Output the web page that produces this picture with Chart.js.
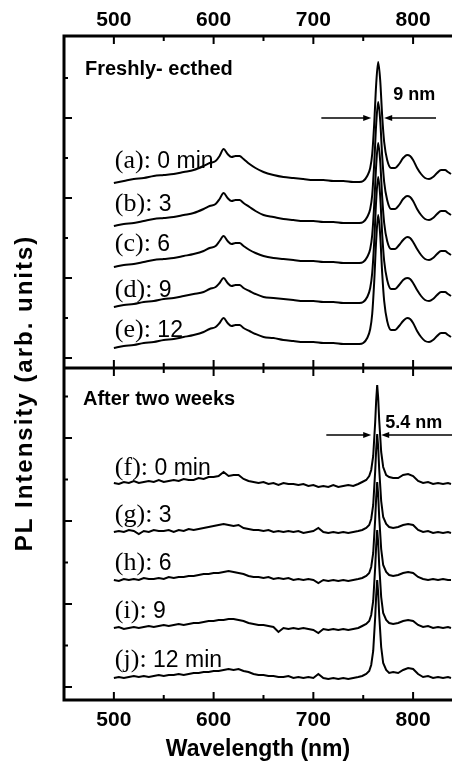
<!DOCTYPE html>
<html>
<head>
<meta charset="utf-8">
<script src="https://cdn.jsdelivr.net/npm/chart.js@4.4.1/dist/chart.umd.min.js"></script>
<style>
  html, body { margin: 0; padding: 0; background: #fff; }
  #chart { display: block; }
</style>
</head>
<body>
<canvas id="chart" width="452" height="763"></canvas>
<script>
// wavelengths (nm) for the freshly-etched spectra
const wavelengthsTop = [
  500, 510, 520, 530, 540, 550, 560, 570, 580, 590,
  596, 602, 606, 610, 614, 618, 622, 626, 630,
  636, 642, 650,
  660, 670, 680, 690, 700, 710, 720, 730, 740,
  746, 750, 754, 757, 759, 761, 763, 765, 767, 769, 771, 774, 778,
  782, 786, 790, 794, 797, 800, 804, 808, 812, 816, 820, 824, 828, 832, 835, 838
];
// intensities, already offset for the stack (a)..(e)
const fresh0 = [
  175, 177, 179, 180, 182, 183, 184, 186, 188, 192,
  195, 197, 202, 209, 204, 201, 202, 202, 199,
  194, 190, 186,
  183, 181, 180, 179, 178, 178, 177, 177, 176,
  176, 177, 182, 190, 204, 234, 274, 296, 278, 242, 216, 198, 190,
  190, 194, 200, 203, 202, 198, 190, 184, 180, 179, 181, 185, 188, 188, 186, 184
];
const fresh3 = [
  132, 134, 135, 137, 139, 140, 141, 143, 145, 149,
  152, 154, 159, 165, 160, 157, 158, 158, 155,
  151, 147, 143,
  141, 139, 138, 137, 137, 136, 136, 135, 135,
  135, 136, 141, 149, 163, 194, 234, 256, 238, 202, 176, 158, 149,
  149, 153, 159, 162, 161, 157, 149, 143, 139, 138, 140, 144, 147, 147, 145, 143
];
const fresh6 = [
  91, 93, 94, 96, 98, 99, 100, 102, 104, 107,
  110, 112, 117, 122, 117, 114, 115, 115, 112,
  108, 105, 102,
  100, 99, 98, 97, 97, 96, 96, 95, 95,
  95, 96, 101, 109, 123, 153, 193, 215, 197, 161, 135, 117, 109,
  109, 113, 118, 121, 120, 116, 109, 103, 99, 98, 100, 104, 107, 107, 105, 103
];
const fresh9 = [
  51, 53, 54, 56, 57, 59, 60, 62, 64, 66,
  69, 71, 75, 80, 75, 72, 73, 73, 70,
  67, 64, 61,
  60, 59, 58, 57, 57, 56, 56, 55, 55,
  55, 56, 61, 70, 85, 116, 158, 181, 162, 124, 97, 78, 69,
  69, 73, 78, 80, 79, 75, 68, 62, 58, 57, 59, 63, 66, 66, 64, 62
];
const fresh12 = [
  10, 12, 13, 15, 16, 18, 19, 21, 23, 26,
  29, 31, 35, 40, 35, 32, 33, 33, 30,
  27, 24, 21,
  20, 18, 17, 16, 16, 15, 15, 14, 14,
  14, 15, 20, 29, 44, 76, 118, 143, 123, 85, 57, 37, 28,
  28, 32, 37, 40, 39, 35, 27, 21, 17, 16, 18, 22, 25, 25, 23, 21
];

// wavelengths (nm) for the spectra after two weeks
const wavelengthsBottom = [
  500, 505, 510, 515, 520, 525, 530, 535, 540, 545,
  550, 555, 560, 565, 570, 575, 580, 585, 590, 595,
  600, 605, 610, 615, 620, 625, 630, 635, 640, 645,
  650, 655, 660, 665, 670, 675, 680, 685, 690, 695,
  700, 705, 710, 715, 720, 725, 730, 735, 740, 745,
  749, 753, 756, 758, 760, 762, 763, 764, 765, 766, 768, 770, 773, 776,
  780, 785, 790, 795, 800, 805, 810, 815, 820, 825, 830, 835, 838
];
const aged0 = [
  204, 203, 205, 204, 206, 204, 205, 206, 205, 207,
  205, 206, 207, 206, 208, 207, 207, 209, 208, 210,
  210, 211, 215, 211, 212, 212, 208, 206, 205, 204,
  205, 203, 204, 202, 204, 203, 203, 202, 203, 201,
  202, 200, 201, 200, 202, 200, 201, 202, 201, 203,
  205, 207, 211, 217, 231, 265, 287, 302, 289, 267, 235, 220, 212, 210,
  209, 209, 212, 213, 211, 206, 204, 205, 203, 204, 203, 204, 203
];
const aged3 = [
  155, 156, 155, 157, 156, 153, 156, 155, 157, 156,
  156, 157, 155, 157, 156, 158, 157, 158, 159, 160,
  161, 162, 163, 162, 161, 162, 159, 158, 157, 157,
  156, 157, 155, 156, 155, 156, 155, 156, 154, 155,
  156, 159, 155, 154, 155, 154, 155, 154, 155, 156,
  157, 159, 162, 168, 182, 216, 238, 253, 240, 218, 186, 170, 163, 160,
  159, 160, 162, 163, 162, 157, 155, 156, 154, 155, 154, 155, 154
];
const aged6 = [
  107, 106, 108, 107, 108, 107, 109, 108, 108, 109,
  108, 110, 109, 110, 110, 111, 111, 112, 113, 113,
  114, 114, 115, 116, 115, 114, 113, 111, 110, 110,
  109, 110, 108, 109, 108, 109, 107, 108, 107, 108,
  107, 104, 107, 106, 107, 106, 107, 106, 107, 108,
  109, 111, 114, 120, 134, 168, 190, 205, 192, 170, 138, 122, 115, 112,
  111, 112, 114, 115, 114, 110, 108, 107, 108, 107, 108, 107, 107
];
const aged9 = [
  59, 60, 58, 59, 60, 59, 60, 61, 60, 61,
  62, 61, 62, 63, 62, 63, 64, 64, 65, 66,
  66, 67, 67, 68, 68, 67, 66, 64, 63, 62,
  62, 61, 60, 55, 59, 58, 59, 58, 59, 58,
  57, 54, 58, 57, 58, 57, 58, 57, 58, 59,
  61, 63, 66, 72, 86, 120, 142, 157, 144, 122, 90, 74, 67, 64,
  63, 64, 66, 67, 66, 62, 60, 61, 59, 60, 59, 60, 59
];
const aged12 = [
  9, 10, 9, 10, 11, 10, 11, 10, 11, 12,
  11, 12, 12, 13, 12, 13, 14, 14, 15, 15,
  16, 16, 17, 18, 17, 18, 16, 15, 13, 12,
  12, 11, 11, 10, 10, 11, 9, 10, 9, 10,
  9, 13, 9, 8, 9, 8, 9, 8, 9, 10,
  11, 13, 16, 22, 36, 70, 92, 107, 94, 72, 40, 24, 17, 14,
  15, 14, 17, 19, 18, 13, 10, 11, 9, 10, 9, 10, 9
];

// tick marks
const xTicks = [500, 550, 600, 650, 700, 750, 800];
const yTicksTop = [0, 40, 80, 120, 160, 200, 240, 280];
const yTicksBottom = [0, 41.5, 83, 124.5, 166, 207.5, 249, 290.5];

const TOP_MIN = -342, TOP_MAX = 322;      // upper panel occupies the top half
const BOT_MIN = -13, BOT_MAX = 651;       // lower panel occupies the bottom half
const TOP_EDGE = -10;                     // upper panel bottom edge, in its own units

const toXY = (xs, ys) => xs.map((x, i) => ({ x: x, y: ys[i] }));

const topSets = [fresh0, fresh3, fresh6, fresh9, fresh12].map(d => ({
  data: toXY(wavelengthsTop, d), yAxisID: 'y',
  cubicInterpolationMode: 'monotone', tension: 0.4
}));
const bottomSets = [aged0, aged3, aged6, aged9, aged12].map(d => ({
  data: toXY(wavelengthsBottom, d), yAxisID: 'y2', tension: 0
}));

function arrow(ctx, x1, x2, y) {
  const d = Math.sign(x2 - x1);
  ctx.beginPath();
  ctx.moveTo(x1, y);
  ctx.lineTo(x2 - d * 4, y);
  ctx.stroke();
  ctx.beginPath();
  ctx.moveTo(x2, y);
  ctx.lineTo(x2 - d * 8, y - 3);
  ctx.lineTo(x2 - d * 8, y + 3);
  ctx.closePath();
  ctx.fill();
}

function curveLabel(ctx, serif, sans, px, py) {
  ctx.font = '26px "Liberation Serif"';
  ctx.fillText(serif, px, py);
  const w = ctx.measureText(serif).width;
  ctx.font = '23px "Liberation Sans"';
  ctx.fillText(sans, px + w, py);
}

const framePlugin = {
  id: 'frame',
  afterDraw(chart) {
    const { ctx, chartArea: a, scales } = chart;
    const x = scales.x, yT = scales.y, yB = scales.y2;
    const mid = yT.getPixelForValue(TOP_EDGE);
    ctx.save();
    ctx.strokeStyle = '#000';
    ctx.fillStyle = '#000';

    // frame
    ctx.lineWidth = 3;
    ctx.beginPath();
    ctx.moveTo(a.right + 2, a.top); ctx.lineTo(a.left, a.top);
    ctx.lineTo(a.left, a.bottom); ctx.lineTo(a.right + 2, a.bottom);
    ctx.moveTo(a.left, mid); ctx.lineTo(a.right + 2, mid);
    ctx.stroke();

    // inward ticks
    ctx.lineWidth = 2;
    ctx.beginPath();
    xTicks.forEach(v => {
      const px = x.getPixelForValue(v);
      const len = v % 100 === 0 ? 8 : 5;
      ctx.moveTo(px, a.top); ctx.lineTo(px, a.top + len);
      ctx.moveTo(px, mid); ctx.lineTo(px, mid - len);
      ctx.moveTo(px, mid); ctx.lineTo(px, mid + len);
      ctx.moveTo(px, a.bottom); ctx.lineTo(px, a.bottom - len);
    });
    yTicksTop.forEach((v, i) => {
      const py = yT.getPixelForValue(v);
      ctx.moveTo(a.left, py); ctx.lineTo(a.left + (i % 2 === 0 ? 8 : 4), py);
    });
    yTicksBottom.forEach((v, i) => {
      const py = yB.getPixelForValue(v);
      ctx.moveTo(a.left, py); ctx.lineTo(a.left + (i % 2 === 0 ? 8 : 4), py);
    });
    ctx.stroke();

    // panel titles and widths
    ctx.textBaseline = 'alphabetic';
    ctx.textAlign = 'left';
    ctx.font = 'bold 20px "Liberation Sans"';
    ctx.fillText('Freshly- ecthed', x.getPixelForValue(471), yT.getPixelForValue(283));
    ctx.fillText('After two weeks', x.getPixelForValue(469), yB.getPixelForValue(282));
    ctx.font = 'bold 18px "Liberation Sans"';
    ctx.fillText('9 nm', x.getPixelForValue(780), yT.getPixelForValue(258));
    ctx.fillText('5.4 nm', x.getPixelForValue(772), yB.getPixelForValue(259));

    ctx.lineWidth = 1.5;
    const ya = yT.getPixelForValue(240);
    arrow(ctx, x.getPixelForValue(708), x.getPixelForValue(758), ya);
    arrow(ctx, x.getPixelForValue(823), x.getPixelForValue(771), ya);
    const yb = yB.getPixelForValue(252);
    arrow(ctx, x.getPixelForValue(713), x.getPixelForValue(758), yb);
    arrow(ctx, x.getPixelForValue(845), x.getPixelForValue(768), yb);

    // curve labels
    const lx = x.getPixelForValue(501);
    curveLabel(ctx, '(a):', ' 0 min', lx, yT.getPixelForValue(190));
    curveLabel(ctx, '(b):', ' 3', lx, yT.getPixelForValue(147));
    curveLabel(ctx, '(c):', ' 6', lx, yT.getPixelForValue(107));
    curveLabel(ctx, '(d):', ' 9', lx, yT.getPixelForValue(61));
    curveLabel(ctx, '(e):', ' 12', lx, yT.getPixelForValue(21));
    curveLabel(ctx, '(f):', ' 0 min', lx, yB.getPixelForValue(212));
    curveLabel(ctx, '(g):', ' 3', lx, yB.getPixelForValue(165));
    curveLabel(ctx, '(h):', ' 6', lx, yB.getPixelForValue(117));
    curveLabel(ctx, '(i):', ' 9', lx, yB.getPixelForValue(69));
    curveLabel(ctx, '(j):', ' 12 min', lx, yB.getPixelForValue(20));

    // y axis title spanning both panels
    ctx.translate(25, 393);
    ctx.rotate(-Math.PI / 2);
    ctx.textAlign = 'center';
    ctx.textBaseline = 'middle';
    ctx.font = 'bold 24px "Liberation Sans"';
    ctx.letterSpacing = '2px';
    ctx.fillText('PL Intensity (arb. units)', 0, 0);
    ctx.restore();
  }
};

const tickFont = { family: 'Liberation Sans', size: 21, weight: 'bold' };
const xAxis = (pos, h, pad) => ({
  type: 'linear', position: pos, min: 450, max: 839,
  afterBuildTicks: s => { s.ticks = xTicks.map(v => ({ value: v })); },
  afterFit: s => { s.height = h; },
  grid: { display: false },
  border: { display: false },
  ticks: {
    color: '#000', font: tickFont, padding: pad, maxRotation: 0, autoSkip: false,
    callback: v => (v % 100 === 0 ? String(v) : '')
  }
});

const xBottom = xAxis('bottom', 63, 0);
xBottom.title = {
  display: true, text: 'Wavelength (nm)', color: '#000',
  font: { family: 'Liberation Sans', size: 23, weight: 'bold' },
  padding: { top: 0, bottom: 0 }
};

new Chart(document.getElementById('chart'), {
  type: 'line',
  data: { datasets: topSets.concat(bottomSets) },
  options: {
    responsive: false,
    animation: false,
    devicePixelRatio: 1,
    layout: { padding: { left: 64, right: 0, top: 0, bottom: 0 } },
    plugins: { legend: { display: false }, tooltip: { enabled: false } },
    elements: {
      point: { radius: 0 },
      line: { borderColor: '#000', borderWidth: 2, fill: false }
    },
    scales: {
      x: xBottom,
      x2: xAxis('top', 36, -5),
      y: { type: 'linear', display: false, min: TOP_MIN, max: TOP_MAX },
      y2: { type: 'linear', display: false, min: BOT_MIN, max: BOT_MAX }
    }
  },
  plugins: [framePlugin]
});
</script>
</body>
</html>
